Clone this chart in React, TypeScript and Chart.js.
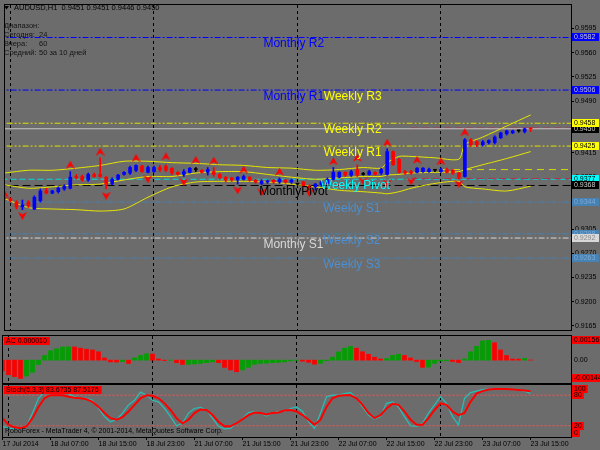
import React, { useEffect, useRef } from "react";
import { Chart, registerables } from "chart.js";

Chart.register(...registerables);

const FONT = "'Liberation Sans', Arial, Helvetica, sans-serif";
const BG = "#6c6c6c";

// ---------------- texts ----------------
const symbolTitle = "AUDUSD,H1  0.9451 0.9451 0.9446 0.9450";
const rangeTitle = "Диапазон:";
const rangeRowNames = ["Сегодня:", "Вчера:", "Средний:"];
const rangeRowValues = ["24", "60", "50 за 10 дней"];
const copyright = "RoboForex - MetaTrader 4, © 2001-2014, MetaQuotes Software Corp.";

// ---------------- axes ----------------
const timeTickIdx = [0, 8, 16, 24, 32, 40, 48, 56, 64, 72, 80, 88];
const timeLabels = [
  "17 Jul 2014", "18 Jul 07:00", "18 Jul 15:00", "18 Jul 23:00", "21 Jul 07:00", "21 Jul 15:00",
  "21 Jul 23:00", "22 Jul 07:00", "22 Jul 15:00", "22 Jul 23:00", "23 Jul 07:00", "23 Jul 15:00",
];
const daySeparatorIdx = [1, 25, 49, 73];
const priceTicks = [0.9595, 0.956, 0.9525, 0.949, 0.9455, 0.9415, 0.938, 0.9345, 0.9305, 0.927, 0.9235, 0.92, 0.9165];

// ---------------- candles (H1) ----------------
const opens = [
  0.9351, 0.9349, 0.9344, 0.9337, 0.9344, 0.9334, 0.9346, 0.9361, 0.9357, 0.9359,
  0.9363, 0.9364, 0.9381, 0.9381, 0.9376, 0.9384, 0.9384, 0.938, 0.9371, 0.9377,
  0.9384, 0.9386, 0.939, 0.9396, 0.9387, 0.9388, 0.9394, 0.9396, 0.9393, 0.9387,
  0.9384, 0.9387, 0.9391, 0.939, 0.9387, 0.9388, 0.9384, 0.938, 0.9379, 0.9376,
  0.9377, 0.938, 0.9376, 0.9371, 0.9373, 0.9376, 0.9373, 0.9376, 0.9373, 0.937,
  0.9373, 0.9367, 0.9366, 0.9369, 0.9371, 0.9377, 0.938, 0.9387, 0.9383, 0.9391,
  0.9384, 0.9384, 0.9387, 0.9386, 0.9384, 0.9417, 0.9406, 0.9388, 0.9388, 0.9387,
  0.9388, 0.9388, 0.939, 0.9388, 0.9391, 0.939, 0.9386, 0.9381, 0.9434, 0.9431,
  0.9427, 0.943, 0.943, 0.9437, 0.9443, 0.9444, 0.9447, 0.9446, 0.9451,
];
const highs = [
  0.9354, 0.935, 0.9346, 0.9347, 0.9346, 0.9353, 0.9363, 0.9364, 0.9361, 0.9366,
  0.9369, 0.9388, 0.9384, 0.9383, 0.9386, 0.9386, 0.9408, 0.9381, 0.9379, 0.9384,
  0.9388, 0.9396, 0.9398, 0.9397, 0.9396, 0.9396, 0.9397, 0.9398, 0.9394, 0.9388,
  0.9391, 0.9394, 0.9394, 0.9391, 0.9394, 0.9394, 0.9386, 0.9381, 0.938, 0.9381,
  0.9383, 0.9381, 0.9377, 0.9376, 0.9376, 0.9377, 0.9379, 0.9377, 0.9377, 0.9371,
  0.9374, 0.9369, 0.9371, 0.9374, 0.9379, 0.9394, 0.9388, 0.9388, 0.939, 0.9398,
  0.9387, 0.939, 0.9388, 0.9393, 0.9421, 0.9418, 0.9407, 0.939, 0.939, 0.9394,
  0.9394, 0.9393, 0.9391, 0.9393, 0.9393, 0.9391, 0.9387, 0.9436, 0.9436, 0.9433,
  0.9433, 0.9434, 0.944, 0.9445, 0.9448, 0.9448, 0.9448, 0.9451, 0.9451,
];
const lows = [
  0.9346, 0.9344, 0.9334, 0.9333, 0.9336, 0.9333, 0.9344, 0.9356, 0.9356, 0.9357,
  0.9361, 0.9363, 0.9377, 0.9374, 0.9374, 0.938, 0.938, 0.9363, 0.9369, 0.9376,
  0.9383, 0.9384, 0.9388, 0.9387, 0.9386, 0.9387, 0.9388, 0.9388, 0.9384, 0.9383,
  0.9381, 0.9386, 0.9388, 0.9386, 0.9383, 0.9381, 0.9377, 0.9373, 0.9374, 0.937,
  0.9376, 0.9374, 0.9371, 0.9369, 0.9371, 0.9371, 0.9371, 0.9371, 0.9371, 0.9369,
  0.9366, 0.9361, 0.9361, 0.9367, 0.937, 0.9376, 0.9379, 0.9381, 0.9381, 0.9381,
  0.9383, 0.9383, 0.9383, 0.9384, 0.9383, 0.9397, 0.9386, 0.9384, 0.9384, 0.9386,
  0.9387, 0.9387, 0.9388, 0.9387, 0.9386, 0.9384, 0.9378, 0.938, 0.9425, 0.9424,
  0.9425, 0.9428, 0.9428, 0.9436, 0.9441, 0.9443, 0.9445, 0.9444, 0.9446,
];
const closes = [
  0.9349, 0.9346, 0.9337, 0.934, 0.9339, 0.9351, 0.936, 0.9357, 0.936, 0.9364,
  0.9367, 0.938, 0.9379, 0.9376, 0.9384, 0.9381, 0.9381, 0.937, 0.9377, 0.9383,
  0.9387, 0.9394, 0.9397, 0.9388, 0.9394, 0.9394, 0.9391, 0.939, 0.9386, 0.9384,
  0.9388, 0.9393, 0.9391, 0.9387, 0.9391, 0.9384, 0.9379, 0.9376, 0.9376, 0.938,
  0.9381, 0.9376, 0.9373, 0.9374, 0.9374, 0.9373, 0.9377, 0.9373, 0.9376, 0.937,
  0.9367, 0.9363, 0.937, 0.9373, 0.9377, 0.9387, 0.9387, 0.9383, 0.9388, 0.9383,
  0.9384, 0.9388, 0.9384, 0.9391, 0.9417, 0.9398, 0.9387, 0.9386, 0.9386, 0.9393,
  0.9393, 0.9391, 0.939, 0.9391, 0.9387, 0.9386, 0.938, 0.9434, 0.9427, 0.9427,
  0.9431, 0.9433, 0.9438, 0.9444, 0.9447, 0.9447, 0.9447, 0.945, 0.945,
];

// ---------------- fractals ----------------
const fractalUpIdx = [0, 11, 16, 22, 27, 32, 35, 40, 46, 55, 59, 64, 69, 73, 77];
const fractalUpPrice = [0.9356, 0.9398, 0.9417, 0.9408, 0.941, 0.9405, 0.9404, 0.9391, 0.9388, 0.9403, 0.9408, 0.943, 0.9405, 0.9403, 0.9445];
const fractalDownIdx = [3, 17, 24, 30, 39, 43, 51, 60, 64, 68, 76];
const fractalDownPrice = [0.9324, 0.9353, 0.9377, 0.9373, 0.9361, 0.9358, 0.9357, 0.9374, 0.9371, 0.9374, 0.937];

// ---------------- bands ----------------
const bandIdx = [0, 4, 8, 12, 16, 20, 24, 28, 32, 36, 40, 44, 48, 52, 56, 60, 63, 64, 66, 68, 72, 76, 77, 80, 84, 88];
const bandUpper = [0.9386, 0.939, 0.939, 0.9393, 0.9397, 0.9403, 0.9403, 0.9401, 0.94, 0.9398, 0.9397, 0.9394, 0.9393, 0.939, 0.9391, 0.9394, 0.9393, 0.9401, 0.941, 0.941, 0.9408, 0.9406, 0.9427, 0.9438, 0.9454, 0.947];
const bandMiddle = [0.9369, 0.9364, 0.9366, 0.9369, 0.937, 0.9376, 0.9381, 0.9381, 0.9386, 0.9388, 0.9388, 0.9384, 0.938, 0.9377, 0.9379, 0.9381, 0.9381, 0.9383, 0.9384, 0.9386, 0.9387, 0.9388, 0.9391, 0.9398, 0.9407, 0.9417];
const bandLower = [0.9349, 0.9336, 0.9334, 0.9333, 0.9331, 0.9334, 0.9351, 0.9366, 0.9373, 0.9374, 0.9374, 0.9373, 0.937, 0.9366, 0.9361, 0.9359, 0.9357, 0.9356, 0.9359, 0.9364, 0.9371, 0.9374, 0.9366, 0.9363, 0.936, 0.9367];

// ---------------- pivot levels ----------------
const levelPrices = [0.9582, 0.9506, 0.9458, 0.9425, 0.9377, 0.9368, 0.9344, 0.9298, 0.9292, 0.9263];
const bidPrice = 0.945;
const dayLevelPrices = [0.9391, 0.9451, 0.9378];
const dayLevelStartIdx = [73, 68, 68];

const labelTexts = ["Monthly R2", "Monthly R1", "MonthlyPivot", "Monthly S1", "Weekly R3", "Weekly R2", "Weekly R1", "Weekly Pivot", "Weekly S1", "Weekly S2", "Weekly S3"];
const labelPrices = [0.9582, 0.9506, 0.9368, 0.9292, 0.9506, 0.9458, 0.9425, 0.9377, 0.9344, 0.9298, 0.9263];
const labelIdx = [43.3, 43.3, 42.6, 43.3, 53.4, 53.4, 53.4, 52.9, 53.3, 53.3, 53.3];

// ---------------- AC ----------------
const acValues = [
  -0.00085, -0.00115, -0.0013, -0.00144, -0.00125, -0.00095, -0.00035, 0.00037, 0.00074, 0.00089,
  0.00103, 0.00105, 0.00104, 0.00094, 0.00086, 0.0008, 0.00066, 0.00017, -0.00014, -0.00015,
  -0.00012, -0.00026, 0.00017, 0.00037, 0.0005, 0.00048, 0.00009, -0.00003, -0.00001, -0.0002,
  -0.00034, -0.00033, -0.0003, -0.00026, -0.0002, -0.00014, -0.0002, -0.00057, -0.00077, -0.00091,
  -0.00077, -0.00057, -0.00034, -0.00026, -0.00024, -0.0002, -0.00018, -0.00014, -0.00006, -0.00002,
  -0.00008, -0.00017, -0.00032, -0.00025, -0.00005, 0.00023, 0.00065, 0.00094, 0.00108, 0.00094,
  0.00066, 0.00046, 0.00023, 0.00009, 0.00012, 0.00037, 0.00046, 0.00037, 0.00017, -0.00011,
  -0.00057, -0.00055, -0.00026, -0.00006, -0.00005, -0.00011, -0.00019, 0.00009, 0.00066, 0.00109,
  0.00151, 0.00156, 0.00137, 0.0008, 0.00037, 0.00009, 0.00008, 0.00014, 0.00001,
];

// ---------------- Stochastic ----------------
const stochK = [
  19, 15, 14, 14, 19, 45, 74, 86, 91, 90, 86, 83, 77, 74, 74, 70, 54, 38, 28, 32,
  45, 61, 70, 86, 80, 70, 67, 54, 38, 20, 25, 45, 54, 56, 51, 35, 19, 14, 15, 25,
  35, 46, 48, 45, 39, 45, 48, 48, 54, 57, 48, 28, 15, 45, 77, 80, 80, 83, 85, 74,
  57, 41, 33, 38, 64, 67, 57, 38, 20, 19, 25, 45, 61, 77, 64, 38, 22, 74, 85, 88,
  91, 92, 92, 92, 92, 91, 90, 88, 83.6735,
];
const stochD = [
  35, 22, 17, 15, 19, 35, 57, 74, 80, 80, 80, 77, 75, 74, 72, 67, 57, 45, 35, 32,
  37, 48, 61, 74, 80, 79, 74, 64, 51, 35, 25, 32, 45, 52, 51, 41, 28, 19, 19, 25,
  33, 41, 46, 45, 42, 45, 46, 50, 51, 48, 41, 32, 22, 32, 57, 74, 79, 80, 80, 74,
  61, 45, 35, 41, 54, 63, 61, 48, 32, 22, 22, 35, 51, 64, 61, 48, 41, 45, 67, 83,
  88, 91, 92, 92, 92, 91, 90, 89, 87.5176,
];
const stochLevels = [80, 20];
const stochAxisLabels = [100, 80, 20, 0];

// ---------------- styles ----------------
const X_MIN = 1 / 12;
const X_MAX = X_MIN + 568 / 6;
const DASHDOT = [6, 2, 2, 2];
const DASHDOTDOT = [6, 2, 2, 2, 2, 2];
const DASH = [6, 3];
const STEEL = "#4682b4";
const levelStyles = [
  { color: "#0000ff", dash: DASHDOT, box: "#0000ff", text: "#c8c8c8" },
  { color: "#0000ff", dash: DASHDOT, box: "#0000ff", text: "#c8c8c8" },
  { color: "#e0e000", dash: DASHDOTDOT, box: "#ffff00", text: "#000000" },
  { color: "#e0e000", dash: DASHDOTDOT, box: "#ffff00", text: "#000000" },
  { color: "#00d8d8", dash: DASH, box: "#00ffff", text: "#000000" },
  { color: "#000000", dash: [8, 4], box: "#000000", text: "#c8c8c8" },
  { color: STEEL, dash: DASHDOT, box: STEEL, text: "#80aad6" },
  { color: STEEL, dash: DASHDOT, box: STEEL, text: "#80aad6" },
  { color: "#d8d8d8", dash: DASHDOT, box: "#d8d8d8", text: "#8c8c8c" },
  { color: STEEL, dash: DASHDOT, box: STEEL, text: "#80aad6" },
];
const dayLevelStyles = [
  { color: "#d8d800", dash: [7, 5] },
  { color: "#b03050", dash: [7, 4] },
  { color: "#b03050", dash: [7, 4] },
];
const labelColors = ["#0000ff", "#0000ff", "#000000", "#d8d8d8", "#ffff00", "#ffff00", "#ffff00", "#00ffff", "#4d8fd0", "#4d8fd0", "#4d8fd0"];

function candleColor(i: number) {
  const d = closes[i] - opens[i];
  if (d > 0.00002) return "#0000ff";
  if (d < -0.00002) return "#ff0000";
  return "#000000";
}

function makeArrow(up: boolean) {
  const c = document.createElement("canvas");
  c.width = 9;
  c.height = 8;
  const g = c.getContext("2d")!;
  g.fillStyle = "#ff0000";
  g.beginPath();
  if (up) {
    g.moveTo(4.5, 0); g.lineTo(9, 8); g.lineTo(4.5, 5.5); g.lineTo(0, 8);
  } else {
    g.moveTo(4.5, 8); g.lineTo(9, 0); g.lineTo(4.5, 2.5); g.lineTo(0, 0);
  }
  g.closePath();
  g.fill();
  return c;
}

function drawBox(ctx: CanvasRenderingContext2D, x: number, yc: number, text: string, bg: string | null, fg: string, w?: number) {
  ctx.font = `7px ${FONT}`;
  const tw = ctx.measureText(text).width;
  const bw = Math.max(w ?? 0, tw + 4);
  if (bg) {
    ctx.fillStyle = bg;
    ctx.fillRect(x, Math.round(yc - 4), bw, 8);
  }
  ctx.fillStyle = fg;
  ctx.textBaseline = "middle";
  ctx.textAlign = "left";
  ctx.fillText(text, x + 2, Math.round(yc - 4) + 4.5);
}

const separatorPlugin = {
  id: "separators",
  beforeDatasetsDraw(chart: any) {
    const { ctx, chartArea } = chart;
    const xs = chart.scales.x;
    ctx.save();
    ctx.strokeStyle = "#000000";
    ctx.lineWidth = 1;
    ctx.setLineDash([3, 3]);
    daySeparatorIdx.forEach((i) => {
      const x = Math.floor(xs.getPixelForValue(i)) + 0.5;
      ctx.beginPath();
      ctx.moveTo(x, chartArea.top);
      ctx.lineTo(x, chartArea.bottom);
      ctx.stroke();
    });
    ctx.restore();
  },
};

const framePlugin = {
  id: "frame",
  afterDraw(chart: any) {
    const { ctx, chartArea } = chart;
    ctx.save();
    ctx.strokeStyle = "#000000";
    ctx.lineWidth = 1;
    ctx.strokeRect(chartArea.left - 0.5, chartArea.top - 0.5, chartArea.right - chartArea.left + 1, chartArea.bottom - chartArea.top + 1);
    ctx.restore();
  },
};

function baseX(show: boolean) {
  return {
    type: "linear",
    min: X_MIN,
    max: X_MAX,
    offset: false,
    display: show,
    grid: { display: show, offset: false, drawOnChartArea: false, drawTicks: true, tickLength: 3, color: "#000000" },
    border: { display: false },
    ticks: {
      display: show,
      autoSkip: false,
      maxRotation: 0,
      minRotation: 0,
      align: "start",
      padding: 0,
      color: "#000000",
      font: { family: FONT, size: 7 },
      callback: (_v: any, i: number) => timeLabels[i],
    },
    afterBuildTicks: (s: any) => {
      s.ticks = timeTickIdx.map((v) => ({ value: v }));
    },
    afterFit: (s: any) => {
      if (show) s.height = 13;
      s.paddingLeft = 0;
      s.paddingRight = 0;
    },
  };
}

const commonOpts = {
  responsive: false,
  animation: false,
  devicePixelRatio: 1,
  events: [],
};

export default function App() {
  const mainRef = useRef<HTMLCanvasElement>(null);
  const acRef = useRef<HTMLCanvasElement>(null);
  const stRef = useRef<HTMLCanvasElement>(null);

  useEffect(() => {
    const charts: Chart[] = [];
    const idx = opens.map((_, i) => i);
    const upArrow = makeArrow(true);
    const downArrow = makeArrow(false);

    // ---------- main price chart ----------
    const levelSets = levelPrices.map((p, k) => ({
      type: "line",
      data: [{ x: -5, y: p }, { x: 100, y: p }],
      borderColor: levelStyles[k].color,
      borderDash: levelStyles[k].dash,
      borderWidth: 1,
      pointRadius: 0,
      order: 20,
    }));
    const daySets = dayLevelPrices.map((p, k) => ({
      type: "line",
      data: [{ x: dayLevelStartIdx[k], y: p }, { x: 100, y: p }],
      borderColor: dayLevelStyles[k].color,
      borderDash: dayLevelStyles[k].dash,
      borderWidth: 1,
      pointRadius: 0,
      order: 19,
    }));
    const bidSet = {
      type: "line",
      data: [{ x: -5, y: bidPrice }, { x: 100, y: bidPrice }],
      borderColor: "#c8c8c8",
      borderWidth: 1,
      pointRadius: 0,
      order: 18,
    };
    const bandSet = (vals: number[]) => ({
      type: "line",
      data: bandIdx.map((x, k) => ({ x, y: vals[k] })),
      borderColor: "#e6e600",
      borderWidth: 1,
      pointRadius: 0,
      tension: 0.25,
      order: 10,
    });

    const mainChart = new Chart(mainRef.current!, {
      type: "bar",
      data: {
        datasets: [
          ...levelSets,
          ...daySets,
          bidSet,
          bandSet(bandUpper),
          bandSet(bandMiddle),
          bandSet(bandLower),
          {
            type: "bar",
            data: idx.map((i) => ({ x: i, y: [lows[i], highs[i]] })),
            backgroundColor: idx.map(candleColor),
            barThickness: 1,
            grouped: false,
            order: 5,
          },
          {
            type: "bar",
            data: idx.map((i) => ({ x: i, y: [opens[i], closes[i]] })),
            backgroundColor: idx.map(candleColor),
            barThickness: 3,
            minBarLength: 1,
            grouped: false,
            order: 4,
          },
          {
            type: "line",
            data: fractalUpIdx.map((x, k) => ({ x, y: fractalUpPrice[k] })),
            showLine: false,
            pointStyle: upArrow,
            pointRadius: 4,
            order: 3,
          },
          {
            type: "line",
            data: fractalDownIdx.map((x, k) => ({ x, y: fractalDownPrice[k] })),
            showLine: false,
            pointStyle: downArrow,
            pointRadius: 4,
            order: 3,
          },
        ] as any,
      },
      options: {
        ...commonOpts,
        layout: { padding: { left: 3, top: 3, right: 0, bottom: 2 } },
        plugins: { legend: { display: false }, tooltip: { enabled: false } },
        scales: {
          x: baseX(false) as any,
          y: {
            type: "linear",
            position: "right",
            min: 0.9159,
            max: 0.9629,
            bounds: "data",
            grid: { drawOnChartArea: false, drawTicks: true, tickLength: 3, color: "#000000" },
            border: { display: true, color: "#000000" },
            ticks: {
              color: "#000000",
              padding: 1,
              font: { family: FONT, size: 7 },
              autoSkip: false,
              callback: (v: any) => Number(v).toFixed(4),
            },
            afterBuildTicks: (s: any) => {
              s.ticks = priceTicks.map((v) => ({ value: v }));
            },
            afterFit: (s: any) => {
              s.width = 29;
              s.paddingTop = 0;
              s.paddingBottom = 0;
            },
          } as any,
        },
      } as any,
      plugins: [
        separatorPlugin,
        {
          id: "levelTexts",
          afterDatasetsDraw(chart: any) {
            const { ctx } = chart;
            const xs = chart.scales.x;
            const ys = chart.scales.y;
            ctx.save();
            ctx.font = `12px ${FONT}`;
            ctx.textBaseline = "top";
            ctx.textAlign = "left";
            labelTexts.forEach((t, k) => {
              ctx.fillStyle = labelColors[k];
              ctx.fillText(t, xs.getPixelForValue(labelIdx[k]), ys.getPixelForValue(labelPrices[k]) + 0.5);
            });
            ctx.restore();
          },
        },
        framePlugin,
        {
          id: "mainDecor",
          afterDraw(chart: any) {
            const { ctx } = chart;
            const ys = chart.scales.y;
            ctx.save();
            const bx = chart.chartArea.right + 1;
            drawBox(ctx, bx, ys.getPixelForValue(bidPrice), bidPrice.toFixed(4), "#000000", "#c8c8c8", 27);
            levelPrices.forEach((p, k) => {
              drawBox(ctx, bx, ys.getPixelForValue(p), p.toFixed(4), levelStyles[k].box, levelStyles[k].text, 27);
            });
            ctx.fillStyle = "#000000";
            ctx.beginPath();
            ctx.moveTo(4, 6);
            ctx.lineTo(9, 6);
            ctx.lineTo(6.5, 9.5);
            ctx.closePath();
            ctx.fill();
            ctx.font = `7.5px ${FONT}`;
            ctx.textBaseline = "middle";
            ctx.textAlign = "left";
            ctx.fillStyle = "#000000";
            ctx.fillText(symbolTitle, 14, 8);
            ctx.fillStyle = "#141414";
            ctx.fillText(rangeTitle, 4, 26);
            rangeRowNames.forEach((n, k) => {
              ctx.fillText(n, 4, 35 + k * 9);
              ctx.fillText(rangeRowValues[k], 39, 35 + k * 9);
            });
            ctx.restore();
          },
        },
      ],
    });
    charts.push(mainChart);

    // ---------- AC chart ----------
    const acColors = acValues.map((v, i) => (i > 0 && v > acValues[i - 1] ? "#00a000" : "#ff0000"));
    const acMax = Math.max(...acValues);
    const acMin = Math.min(...acValues);
    const acChart = new Chart(acRef.current!, {
      type: "bar",
      data: {
        datasets: [
          {
            data: acValues.map((v, i) => ({ x: i, y: v })),
            backgroundColor: acColors,
            barThickness: 4,
            grouped: false,
          },
        ] as any,
      },
      options: {
        ...commonOpts,
        layout: { padding: { left: 3, top: 1, right: 0, bottom: 1 } },
        plugins: { legend: { display: false }, tooltip: { enabled: false } },
        scales: {
          x: baseX(false) as any,
          y: {
            type: "linear",
            position: "right",
            min: -0.0018,
            max: 0.0019,
            grid: { display: false },
            border: { display: true, color: "#000000" },
            ticks: { display: false },
            afterFit: (s: any) => {
              s.width = 29;
            },
          } as any,
        },
      } as any,
      plugins: [
        separatorPlugin,
        framePlugin,
        {
          id: "acDecor",
          afterDraw(chart: any) {
            const { ctx } = chart;
            const ys = chart.scales.y;
            const bx = chart.chartArea.right + 1;
            ctx.save();
            drawBox(ctx, bx, ys.getPixelForValue(acMax), acMax.toFixed(5), "#ff0000", "#000000");
            drawBox(ctx, bx, ys.getPixelForValue(0), "0.00", null, "#000000");
            drawBox(ctx, bx, ys.getPixelForValue(acMin), acMin.toFixed(5), "#ff0000", "#000000");
            const t = `AC ${acValues[acValues.length - 1].toFixed(6)}`;
            ctx.font = `7px ${FONT}`;
            const w = ctx.measureText(t).width + 5;
            drawBox(ctx, 4, chart.chartArea.top + 5, t, "#ff0000", "#000000", w);
            ctx.restore();
          },
        },
      ],
    });
    charts.push(acChart);

    // ---------- Stochastic chart ----------
    const stChart = new Chart(stRef.current!, {
      type: "line",
      data: {
        datasets: [
          ...stochLevels.map((lv) => ({
            data: [{ x: -5, y: lv }, { x: 100, y: lv }],
            borderColor: "#ff5050",
            borderDash: [2, 2],
            borderWidth: 1,
            pointRadius: 0,
            order: 10,
          })),
          {
            data: stochK.map((v, i) => ({ x: i, y: v })),
            borderColor: "#28c0b8",
            borderWidth: 1.2,
            pointRadius: 0,
            order: 2,
          },
          {
            data: stochD.map((v, i) => ({ x: i, y: v })),
            borderColor: "#ff0000",
            borderWidth: 2,
            pointRadius: 0,
            order: 1,
          },
        ] as any,
      },
      options: {
        ...commonOpts,
        layout: { padding: { left: 3, top: 1, right: 0, bottom: 0 } },
        plugins: { legend: { display: false }, tooltip: { enabled: false } },
        scales: {
          x: baseX(true) as any,
          y: {
            type: "linear",
            position: "right",
            min: -2,
            max: 100,
            grid: { display: false },
            border: { display: true, color: "#000000" },
            ticks: { display: false },
            afterFit: (s: any) => {
              s.width = 29;
            },
          } as any,
        },
      } as any,
      plugins: [
        separatorPlugin,
        framePlugin,
        {
          id: "stDecor",
          afterDraw(chart: any) {
            const { ctx, chartArea } = chart;
            const ys = chart.scales.y;
            const bx = chartArea.right + 1;
            ctx.save();
            stochAxisLabels.forEach((v) => {
              const y = Math.min(Math.max(ys.getPixelForValue(v), chartArea.top + 4), chartArea.bottom - 4);
              drawBox(ctx, bx, y, String(v), "#ff0000", "#000000");
            });
            const t = `Stoch(5,3,3) ${stochK[stochK.length - 1].toFixed(4)} ${stochD[stochD.length - 1].toFixed(4)}`;
            ctx.font = `7px ${FONT}`;
            const w = ctx.measureText(t).width + 5;
            drawBox(ctx, 4, chartArea.top + 5, t, "#ff0000", "#000000", w);
            ctx.font = `7px ${FONT}`;
            ctx.fillStyle = "#000000";
            ctx.textBaseline = "middle";
            ctx.fillText(copyright, 5, chartArea.bottom - 6);
            ctx.restore();
          },
        },
      ],
    });
    charts.push(stChart);

    return () => charts.forEach((c) => c.destroy());
  }, []);

  return (
    <div style={{ position: "absolute", left: 0, top: 0, width: 600, height: 450, background: BG, overflow: "hidden" }}>
      <canvas ref={mainRef} width={600} height={335} style={{ position: "absolute", left: 0, top: 0 }} />
      <canvas ref={acRef} width={600} height={49} style={{ position: "absolute", left: 0, top: 335 }} />
      <canvas ref={stRef} width={600} height={66} style={{ position: "absolute", left: 0, top: 384 }} />
    </div>
  );
}
